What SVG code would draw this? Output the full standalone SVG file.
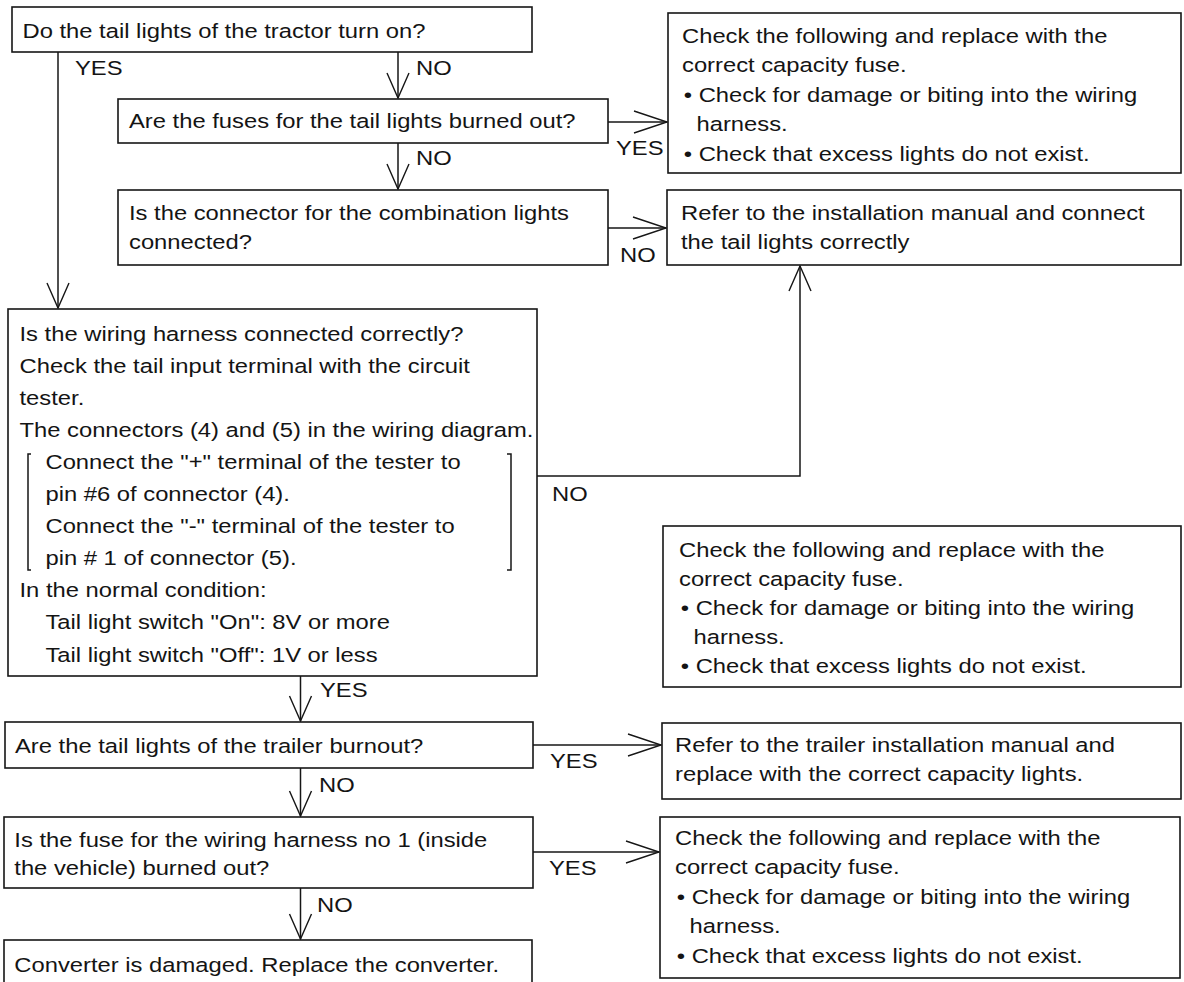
<svg xmlns="http://www.w3.org/2000/svg" width="1184" height="982" viewBox="0 0 1184 982">
<style>
.b{fill:#fff;stroke:#161616;stroke-width:1.6}
.c{fill:none;stroke:#161616;stroke-width:1.5}
.t{font-family:"Liberation Sans",Arial,Helvetica,sans-serif;font-size:20.5px;fill:#141414}
</style>
<defs>
<marker id="av" markerUnits="userSpaceOnUse" markerWidth="30" markerHeight="26" refX="25" refY="11" orient="auto" overflow="visible">
<path d="M0,0 L25,11 L0,22" fill="none" stroke="#161616" stroke-width="1.4"/>
</marker>
<marker id="ah" markerUnits="userSpaceOnUse" markerWidth="36" markerHeight="26" refX="33" refY="11" orient="auto" overflow="visible">
<path d="M0,0 L33,11 L0,22" fill="none" stroke="#161616" stroke-width="1.4"/>
</marker>
</defs>
<rect width="1184" height="982" fill="#fff"/>

<g id="connectors">
<path class="c" d="M58,52 V308" marker-end="url(#av)"/>
<path class="c" d="M398,52 V98" marker-end="url(#av)"/>
<path class="c" d="M398,143 V189" marker-end="url(#av)"/>
<path class="c" d="M608,122 H667" marker-end="url(#ah)"/>
<path class="c" d="M608,228 H666" marker-end="url(#ah)"/>
<path class="c" d="M537,476 H800 V266" marker-end="url(#av)"/>
<path class="c" d="M300.5,676 V721" marker-end="url(#av)"/>
<path class="c" d="M533,745 H661" marker-end="url(#ah)"/>
<path class="c" d="M300.5,768 V816" marker-end="url(#av)"/>
<path class="c" d="M533,852 H659" marker-end="url(#ah)"/>
<path class="c" d="M300.5,888 V939" marker-end="url(#av)"/>
<text class="t" transform="translate(75,0) scale(1.16,1)"><tspan x="0" y="75">YES</tspan></text>
<text class="t" transform="translate(416,0) scale(1.16,1)"><tspan x="0" y="75">NO</tspan></text>
<text class="t" transform="translate(416,0) scale(1.16,1)"><tspan x="0" y="165">NO</tspan></text>
<text class="t" transform="translate(616,0) scale(1.16,1)"><tspan x="0" y="155">YES</tspan></text>
<text class="t" transform="translate(620,0) scale(1.16,1)"><tspan x="0" y="262">NO</tspan></text>
<text class="t" transform="translate(552,0) scale(1.16,1)"><tspan x="0" y="501">NO</tspan></text>
<text class="t" transform="translate(320,0) scale(1.16,1)"><tspan x="0" y="697">YES</tspan></text>
<text class="t" transform="translate(550,0) scale(1.16,1)"><tspan x="0" y="768">YES</tspan></text>
<text class="t" transform="translate(319,0) scale(1.16,1)"><tspan x="0" y="792">NO</tspan></text>
<text class="t" transform="translate(549,0) scale(1.16,1)"><tspan x="0" y="875">YES</tspan></text>
<text class="t" transform="translate(317,0) scale(1.16,1)"><tspan x="0" y="912">NO</tspan></text>
</g>

<g id="q1">
<rect class="b" x="12" y="7" width="520" height="45"/>
<text class="t" transform="translate(22.5,0) scale(1.16,1)"><tspan x="0" y="38.5">Do the tail lights of the tractor turn on?</tspan></text>
</g>

<g id="q2">
<rect class="b" x="118" y="99" width="490" height="44"/>
<text class="t" transform="translate(129,0) scale(1.16,1)"><tspan x="0" y="128">Are the fuses for the tail lights burned out?</tspan></text>
</g>

<g id="q3">
<rect class="b" x="118" y="190" width="490" height="75"/>
<text class="t" transform="translate(129,0) scale(1.16,1)"><tspan x="0" y="220">Is the connector for the combination lights</tspan><tspan x="0" y="249">connected?</tspan></text>
</g>

<g id="a1">
<rect class="b" x="668" y="13" width="513" height="160"/>
<text class="t" transform="translate(682,0) scale(1.16,1)"><tspan x="0" y="43">Check the following and replace with the</tspan><tspan x="0" y="72.5">correct capacity fuse.</tspan><tspan x="1.5" y="102">• Check for damage or biting into the wiring</tspan><tspan x="12.5" y="131.5">harness.</tspan><tspan x="1.5" y="161">• Check that excess lights do not exist.</tspan></text>
</g>

<g id="a2">
<rect class="b" x="667" y="190" width="514" height="75"/>
<text class="t" transform="translate(681,0) scale(1.16,1)"><tspan x="0" y="220">Refer to the installation manual and connect</tspan><tspan x="0" y="249">the tail lights correctly</tspan></text>
</g>

<g id="q4">
<rect class="b" x="8" y="309" width="529" height="367"/>
<path class="c" d="M31,454 H28 V570 H31 M507,454 H511 V570 H507" stroke-width="1.2"/>
<text class="t" transform="translate(19.5,0) scale(1.16,1)"><tspan x="0" y="341.5">Is the wiring harness connected correctly?</tspan><tspan x="0" y="373.5">Check the tail input terminal with the circuit</tspan><tspan x="0" y="405.5">tester.</tspan><tspan x="0" y="437.5">The connectors (4) and (5) in the wiring diagram.</tspan><tspan x="22.4" y="469.5">Connect the "+" terminal of the tester to</tspan><tspan x="22.4" y="501.5">pin #6 of connector (4).</tspan><tspan x="22.4" y="533.5">Connect the "-" terminal of the tester to</tspan><tspan x="22.4" y="565.5">pin # 1 of connector (5).</tspan><tspan x="0" y="597.5">In the normal condition:</tspan><tspan x="22.4" y="629.5">Tail light switch "On":  8V or more</tspan><tspan x="22.4" y="662">Tail light switch "Off":  1V or less</tspan></text>
</g>

<g id="a3">
<rect class="b" x="663" y="526" width="518" height="161"/>
<text class="t" transform="translate(679,0) scale(1.16,1)"><tspan x="0" y="557">Check the following and replace with the</tspan><tspan x="0" y="586">correct capacity fuse.</tspan><tspan x="1.5" y="615">• Check for damage or biting into the wiring</tspan><tspan x="12.5" y="644">harness.</tspan><tspan x="1.5" y="673">• Check that excess lights do not exist.</tspan></text>
</g>

<g id="q5">
<rect class="b" x="5" y="722" width="528" height="46"/>
<text class="t" transform="translate(15,0) scale(1.16,1)"><tspan x="0" y="753">Are the tail lights of the trailer burnout?</tspan></text>
</g>

<g id="a4">
<rect class="b" x="662" y="723" width="519" height="76"/>
<text class="t" transform="translate(675,0) scale(1.16,1)"><tspan x="0" y="752">Refer to the trailer installation manual and</tspan><tspan x="0" y="781">replace with the correct capacity lights.</tspan></text>
</g>

<g id="q6">
<rect class="b" x="4" y="817" width="529" height="71"/>
<text class="t" transform="translate(14.3,0) scale(1.16,1)"><tspan x="0" y="847">Is the fuse for the wiring harness no 1 (inside</tspan><tspan x="0" y="875">the vehicle) burned out?</tspan></text>
</g>

<g id="a5">
<rect class="b" x="660" y="817" width="520" height="161"/>
<text class="t" transform="translate(675,0) scale(1.16,1)"><tspan x="0" y="845">Check the following and replace with the</tspan><tspan x="0" y="874.5">correct capacity fuse.</tspan><tspan x="1.5" y="904">• Check for damage or biting into the wiring</tspan><tspan x="12.5" y="933.5">harness.</tspan><tspan x="1.5" y="963">• Check that excess lights do not exist.</tspan></text>
</g>

<g id="r1">
<rect class="b" x="4" y="940" width="528" height="50"/>
<text class="t" transform="translate(14.3,0) scale(1.16,1)"><tspan x="0" y="972">Converter is damaged. Replace the converter.</tspan></text>
</g>
</svg>
